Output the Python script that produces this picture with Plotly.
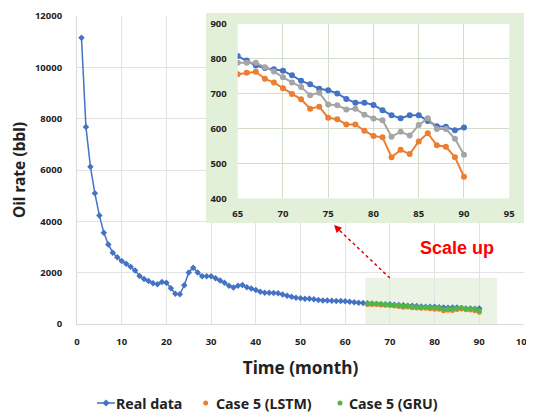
import plotly.graph_objects as go

# ---------------- data ----------------
months = list(range(1, 91))
real_data = [11150, 7680, 6130, 5090, 4230, 3560, 3100, 2780, 2600, 2450,
             2350, 2230, 2080, 1870, 1750, 1680, 1590, 1550, 1640, 1610,
             1390, 1180, 1160, 1510, 2010, 2195, 2010, 1860, 1860, 1860,
             1780, 1690, 1610, 1495, 1420, 1495, 1520, 1430, 1380, 1325,
             1260, 1220, 1220, 1210, 1195, 1145, 1105, 1065, 1025, 1000,
             985, 985, 960, 935, 920, 920, 910, 895, 895, 885,
             870, 845, 825, 815, 808, 795, 781, 774, 770, 766,
             753, 737, 727, 714, 710, 701, 685, 674, 674, 668,
             653, 638, 630, 638, 638, 622, 607, 605, 595, 603]

pred_months = list(range(65, 91))
lstm = [756, 760, 763, 743, 732, 716, 699, 684, 657, 663,
        631, 627, 612, 612, 594, 579, 575, 518, 539, 527,
        563, 587, 552, 548, 518, 462]
gru = [789, 789, 789, 776, 764, 747, 732, 719, 696, 703,
       669, 667, 655, 657, 640, 629, 624, 577, 591, 580,
       610, 630, 599, 599, 571, 525]

legend_names = ["Real data", "Case 5 (LSTM)", "Case 5 (GRU)"]

BLUE = "#4472C4"
ORANGE = "#ED7D31"
GRAY = "#A5A5A5"
GREEN = "#4DB848"
LIGHT_GREEN = "#E2F0D9"
FONT = "Noto Sans"

fig = go.Figure()

# main chart
fig.add_trace(go.Scatter(x=months, y=real_data, mode="lines+markers", name=legend_names[0],
                         line=dict(color=BLUE, width=1.5),
                         marker=dict(symbol="diamond", size=5, color=BLUE),
                         showlegend=False, xaxis="x", yaxis="y"))
fig.add_trace(go.Scatter(x=pred_months, y=lstm, mode="markers", name=legend_names[1],
                         marker=dict(symbol="circle", size=5, color=ORANGE),
                         showlegend=False, xaxis="x", yaxis="y"))
fig.add_trace(go.Scatter(x=pred_months, y=gru, mode="markers", name=legend_names[2],
                         marker=dict(symbol="circle", size=5, color=GREEN),
                         showlegend=False, xaxis="x", yaxis="y"))

# inset chart
fig.add_trace(go.Scatter(x=pred_months, y=real_data[64:], mode="lines+markers",
                         line=dict(color=BLUE, width=2), marker=dict(size=6, color=BLUE),
                         showlegend=False, xaxis="x2", yaxis="y2"))
fig.add_trace(go.Scatter(x=pred_months, y=lstm, mode="lines+markers",
                         line=dict(color=ORANGE, width=2), marker=dict(size=6, color=ORANGE),
                         showlegend=False, xaxis="x2", yaxis="y2"))
fig.add_trace(go.Scatter(x=pred_months, y=gru, mode="lines+markers",
                         line=dict(color=GRAY, width=2), marker=dict(size=6, color=GRAY),
                         showlegend=False, xaxis="x2", yaxis="y2"))

tickfont = dict(family=FONT, size=9.5, color="#222", weight="bold")

# page body has an 8px margin, so the figure is 8px smaller and shifted
fig.update_layout(
    width=526, height=404,
    margin=dict(l=69, r=10, t=8, b=88, autoexpand=False),
    plot_bgcolor="white", paper_bgcolor="white",
    font=dict(family=FONT, color="#222"),
    showlegend=False,
    xaxis=dict(domain=[0, 1], range=[0, 100], dtick=10, showgrid=True, automargin=False,
               gridcolor="#E3E3E3", zeroline=False, showline=True, linecolor="#D9D9D9",
               ticks="", tickfont=tickfont, ticklabelstandoff=9, ticklabeloverflow="allow",
               title=dict(text="Time (month)", font=dict(family=FONT, size=17.2, weight="bold"),
                          standoff=14)),
    yaxis=dict(domain=[0, 1], range=[0, 12000], dtick=2000, showgrid=True, automargin=False,
               tickformat="d",
               gridcolor="#E3E3E3", zeroline=False, showline=True, linecolor="#D9D9D9",
               ticks="", tickfont=tickfont, ticklabelstandoff=12, ticklabeloverflow="allow",
               title=dict(text="Oil rate (bbl)", font=dict(family=FONT, size=15.5, weight="bold"),
                          standoff=12)),
    xaxis2=dict(domain=[0.3595, 0.967], anchor="y2", range=[65, 95], dtick=5, automargin=False,
                showgrid=True, gridcolor="#D2DDCB", zeroline=False, showline=False,
                ticks="", tickfont=tickfont, ticklabelstandoff=8),
    yaxis2=dict(domain=[0.408, 0.974], anchor="x2", range=[400, 900], dtick=100, automargin=False,
                showgrid=True, gridcolor="#D2DDCB", zeroline=False, showline=False,
                ticks="", tickfont=tickfont, ticklabelstandoff=10),
)

# inset background box (plus the thin strip above the plot area) and highlighted region
fig.add_shape(type="rect", xref="x", yref="y", x0=28.86, x1=100, y0=3935, y1=12000,
              fillcolor=LIGHT_GREEN, line=dict(width=0), layer="between")
fig.add_shape(type="rect", xref="paper", yref="paper", x0=0.2886, x1=1.0, y0=1.0, y1=1.0097,
              fillcolor=LIGHT_GREEN, line=dict(width=0), layer="below")
fig.add_shape(type="rect", xref="x", yref="y", x0=64.5, x1=94, y0=0, y1=1800,
              fillcolor=LIGHT_GREEN, opacity=0.7, line=dict(width=0), layer="below")

# dashed red arrow
fig.add_shape(type="line", xref="x", yref="y", x0=70.0, y0=1790, x1=57.8, y1=3800,
              line=dict(color="#E00000", width=1.5, dash="dot"))
fig.add_annotation(xref="x", yref="y", x=57.5, y=3857, ax=7, ay=7, text="",
                   showarrow=True, arrowhead=2, arrowsize=1, arrowwidth=1.5,
                   arrowcolor="#E00000")
fig.add_annotation(xref="x", yref="y", x=84.9, y=2961, text="Scale up", showarrow=False,
                   font=dict(family="Liberation Sans", size=18, color="#FF0000", weight="bold"))

# custom legend (below x-axis title)
LY = -0.2565
legfont = dict(family=FONT, size=14.2, color="#222", weight="bold")
fig.add_shape(type="line", xref="paper", yref="paper", x0=0.0447, x1=0.085, y0=LY, y1=LY,
              line=dict(color=BLUE, width=1.5))
fig.add_shape(type="path", xref="paper", yref="paper", xsizemode="pixel", ysizemode="pixel",
              xanchor=0.0649, yanchor=LY, path="M0,3.5 L3.5,0 L0,-3.5 L-3.5,0 Z",
              fillcolor=BLUE, line=dict(width=0))
fig.add_shape(type="circle", xref="paper", yref="paper", xsizemode="pixel", ysizemode="pixel",
              xanchor=0.2879, yanchor=LY, x0=-2.5, x1=2.5, y0=-2.5, y1=2.5,
              fillcolor=ORANGE, line=dict(width=0))
fig.add_shape(type="circle", xref="paper", yref="paper", xsizemode="pixel", ysizemode="pixel",
              xanchor=0.5884, yanchor=LY, x0=-2.5, x1=2.5, y0=-2.5, y1=2.5,
              fillcolor=GREEN, line=dict(width=0))
for name, xpos in zip(legend_names, [0.0895, 0.3125, 0.6107]):
    fig.add_annotation(xref="paper", yref="paper", x=xpos, y=LY, text=name, showarrow=False,
                       xanchor="left", yanchor="middle", xshift=-2, borderpad=0, font=legfont)

fig.write_html("out.html")
